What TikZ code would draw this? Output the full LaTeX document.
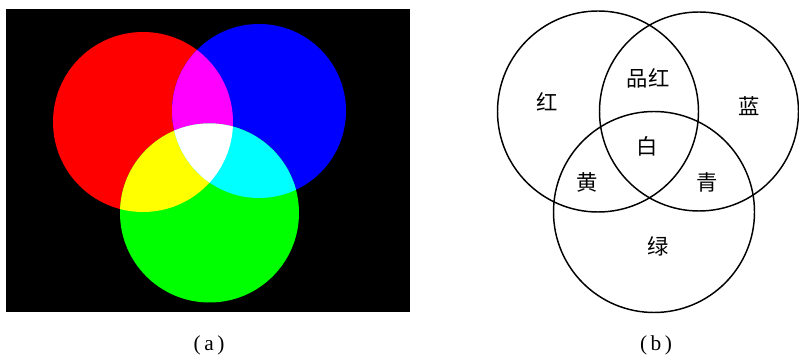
\documentclass[tikz,border=0pt]{standalone}
\usepackage{fontspec}
\setmainfont{Liberation Serif}
\newfontfamily\cjk{Noto Sans CJK SC}
\usetikzlibrary{positioning}
\definecolor{redl}{HTML}{FF0000}
\definecolor{greenl}{HTML}{00FF00}
\definecolor{bluel}{HTML}{0000FF}
\definecolor{magental}{HTML}{FF00FF}
\definecolor{yellowl}{HTML}{FFFF00}
\definecolor{cyanl}{HTML}{00FFFF}
\tikzset{
  ring/.style={draw=black,line width=1.1pt},
  lab/.style={font=\cjk\fontsize{16}{16}\selectfont,inner sep=0pt},
  subcap/.style={font=\fontsize{16}{18}\selectfont,inner sep=0pt}
}
% centres of the light circles (pixel units)
\newcommand{\rc}{(143,122) circle[radius=90]}
\newcommand{\bc}{(259,111) circle[radius=87]}
\newcommand{\gc}{(209.5,213) circle[radius=89.5]}

\begin{document}
\begin{tikzpicture}[x=0.75pt,y=-0.75pt]
\useasboundingbox (0,0) rectangle (799,359);
% (a) additive light
\fill[black] (6,9) rectangle (410,312);
\fill[redl] \rc;
\fill[bluel] \bc;
\fill[greenl] \gc;
\begin{scope}
  \clip \rc;
  \fill[magental] \bc;
  \fill[yellowl] \gc;
\end{scope}
\begin{scope}
  \clip \bc;
  \fill[cyanl] \gc;
\end{scope}
\begin{scope}
  \clip \bc;
  \clip \gc;
  \fill[white] \rc;
\end{scope}
\node[subcap] (capa) at (209,345) {(\,a\,)};
% (b) names of the mixed colours
\draw[ring] (598,111.5) circle[radius=100.5];
\draw[ring] (699,111.5) circle[radius=99.5];
\draw[ring] (654,212) circle[radius=100.5];
\node[lab] (hong) at (547,102) {红};
\node[lab] (pinhong) at (648,78) {品红};
\node[lab] (lan) at (749,106) {蓝};
\node[lab] (bai) at (647,146) {白};
\node[lab] (huang) at (587,182) {黄};
\node[lab] (qing) at (707,182) {青};
\node[lab] (lv) at (658,246) {绿};
\node[subcap] (capb) at (656,345) {(\,b\,)};
\end{tikzpicture}
\end{document}
